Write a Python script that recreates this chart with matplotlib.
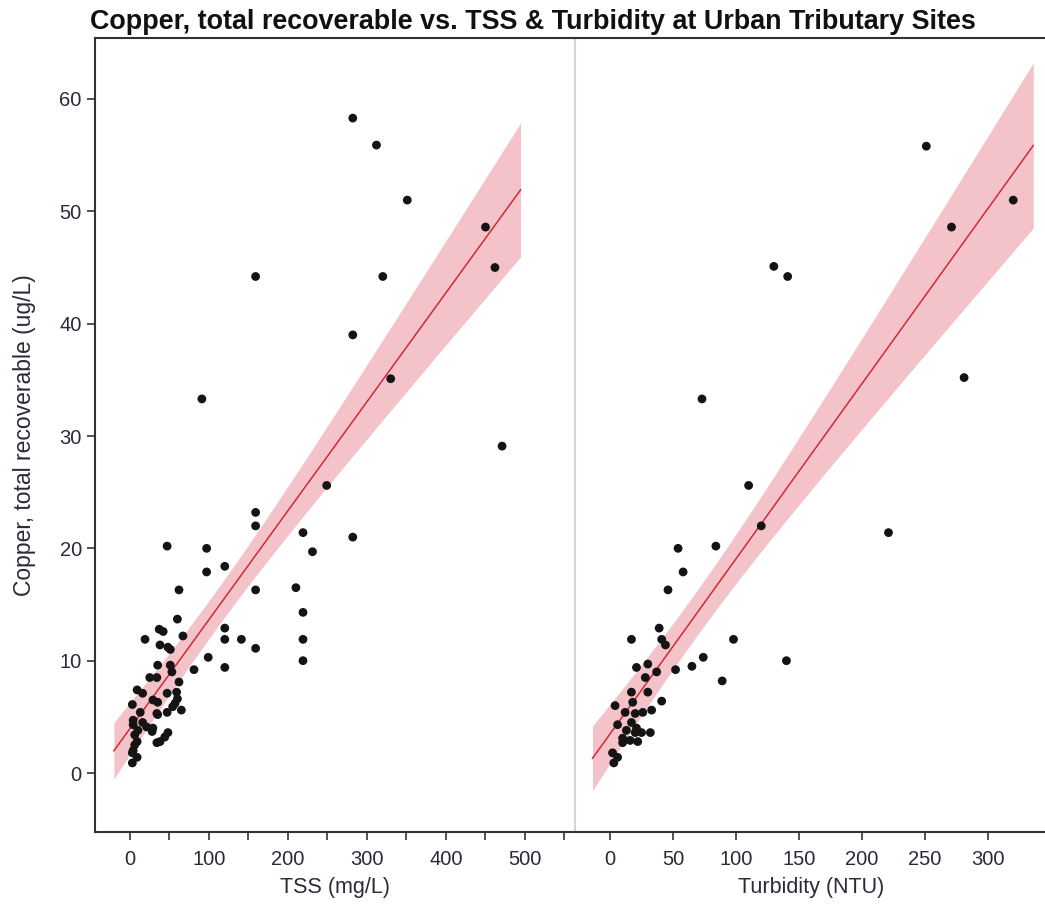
import numpy as np
import matplotlib
matplotlib.use("Agg")
import matplotlib.pyplot as plt
from matplotlib.ticker import MultipleLocator
from matplotlib import font_manager

# ---------------- data ----------------
tss = [282, 312, 351, 450, 462, 159, 320, 282, 330, 91, 471,
       249, 159, 159, 219, 282, 231, 47, 97, 120, 97, 62, 159, 210, 219, 60,
       37, 42, 19, 67, 120, 120, 141, 219, 159, 219, 99, 120, 81, 38, 48, 51,
       35, 51, 53, 25, 34, 62, 9, 16, 47, 59,
       60, 29, 35, 3, 57, 54, 65, 47, 34, 35, 13, 4, 4, 16, 21, 29, 28, 10, 6,
       48, 44, 38, 34, 9, 6, 4, 3, 9, 3]
cu_tss = [58.3, 55.9, 51.0, 48.6, 45.0, 44.2, 44.2, 39.0, 35.1, 33.3, 29.1,
          25.6, 23.2, 22.0, 21.4, 21.0, 19.7, 20.2, 20.0, 18.4, 17.9, 16.3, 16.3, 16.5, 14.3, 13.7,
          12.8, 12.6, 11.9, 12.2, 12.9, 11.9, 11.9, 11.9, 11.1, 10.0, 10.3, 9.4, 9.2, 11.4, 11.2, 11.0,
          9.6, 9.6, 9.0, 8.5, 8.5, 8.1, 7.4, 7.1, 7.1, 7.2,
          6.6, 6.5, 6.3, 6.1, 6.2, 5.9, 5.6, 5.4, 5.3, 5.2, 5.4, 4.7, 4.3, 4.5, 4.1, 4.0, 3.7, 3.8, 3.4,
          3.6, 3.2, 2.8, 2.7, 2.8, 2.5, 2.0, 1.8, 1.4, 0.9]

turb = [251, 320, 271, 130, 141, 281, 73, 110, 120, 221, 54, 84, 58, 46, 39, 17, 98,
        41, 44, 140, 74, 30, 21, 37, 52, 65, 89, 28,
        17, 30, 41, 4, 18, 12, 20, 26, 33, 6, 17, 21, 13, 20, 25, 32, 10, 16, 10, 22,
        2, 6, 3]
cu_turb = [55.8, 51.0, 48.6, 45.1, 44.2, 35.2, 33.3, 25.6, 22.0, 21.4, 20.0, 20.2, 17.9, 16.3, 12.9, 11.9, 11.9,
           11.9, 11.4, 10.0, 10.3, 9.7, 9.4, 9.0, 9.2, 9.5, 8.2, 8.5,
           7.2, 7.2, 6.4, 6.0, 6.3, 5.4, 5.3, 5.4, 5.6, 4.3, 4.5, 4.0, 3.8, 3.6, 3.6, 3.6, 3.1, 2.9, 2.7, 2.8,
           1.8, 1.4, 0.9]

title = "Copper, total recoverable vs. TSS & Turbidity at Urban Tributary Sites"
ylabel = "Copper, total recoverable (ug/L)"
xlabel_left = "TSS (mg/L)"
xlabel_right = "Turbidity (NTU)"

# ---------------- styling ----------------
avail = {f.name for f in font_manager.fontManager.ttflist}
base_font = "Liberation Sans" if "Liberation Sans" in avail else "DejaVu Sans"
title_font = "Liberation Sans Narrow" if "Liberation Sans Narrow" in avail else base_font
plt.rcParams["font.family"] = [base_font, "DejaVu Sans"]

W, H = 1045, 905
fig = plt.figure(figsize=(W / 100, H / 100), dpi=100)

def fx(px):
    return px / W

def fy(py):
    return 1 - py / H

bot, top = 832, 38
axL = fig.add_axes([fx(95), fy(bot), fx(575 - 95), (bot - top) / H])
axR = fig.add_axes([fx(575), fy(bot), fx(1047 - 575), (bot - top) / H], sharey=axL)

spine_c = "#333333"
tick_c = "#2a2a3a"
pt_c = "#141414"
band_c = "#f3bcc3"
line_c = "#d02a38"


def fit_band(ax, x, y, t=1.99):
    x = np.asarray(x, float)
    y = np.asarray(y, float)
    n = len(x)
    b, a = np.polyfit(x, y, 1)
    rng = x.max() - x.min()
    xg = np.linspace(x.min() - 0.05 * rng, x.max() + 0.05 * rng, 200)
    yg = a + b * xg
    resid = y - (a + b * x)
    s = np.sqrt(np.sum(resid ** 2) / (n - 2))
    sxx = np.sum((x - x.mean()) ** 2)
    se = s * np.sqrt(1 / n + (xg - x.mean()) ** 2 / sxx)
    ax.fill_between(xg, yg - t * se, yg + t * se, color=band_c, alpha=0.9,
                    linewidth=0, zorder=1)
    ax.plot(xg, yg, color=line_c, lw=1.1, zorder=2)


for ax, x, y in [(axL, tss, cu_tss), (axR, turb, cu_turb)]:
    fit_band(ax, x, y)
    ax.scatter(x, y, s=40, color=pt_c, edgecolors="none", zorder=3)
    ax.set_facecolor("white")
    for sp in ax.spines.values():
        sp.set_color(spine_c)
        sp.set_linewidth(1.5)
    ax.spines["right"].set_visible(False)
    ax.tick_params(axis="both", direction="out", length=6, width=1.2,
                   color=spine_c, labelcolor=tick_c, labelsize=14.5)
    ax.tick_params(axis="x", pad=7)

axL.set_xlim(-44.3, 563.3)
axR.set_xlim(-27.8, 346.8)
axL.set_ylim(-5.25, 65.43)

axL.xaxis.set_major_locator(MultipleLocator(100))
axL.xaxis.set_minor_locator(MultipleLocator(50))
axL.tick_params(axis="x", which="minor", direction="out", length=6, width=1.2, color=spine_c)
axR.xaxis.set_major_locator(MultipleLocator(50))
axL.yaxis.set_major_locator(MultipleLocator(10))

axR.spines["left"].set_color("#d4d4d4")
axR.spines["left"].set_linewidth(1.5)
axR.tick_params(axis="y", left=False, labelleft=False)

axL.set_xlabel(xlabel_left, fontsize=15.5, color=tick_c, labelpad=6)
axR.set_xlabel(xlabel_right, fontsize=15.5, color=tick_c, labelpad=6)
fig.text(fx(25), (fy(bot) + fy(top)) / 2, ylabel, rotation=90, ha="center",
         va="center", fontsize=16.5, color=tick_c)

fig.text(fx(90), fy(22), title, ha="left", va="center", fontsize=19.4,
         fontweight="bold", color="#111111", family=[title_font, "DejaVu Sans"])

fig.savefig("out.png", dpi=100, facecolor="white")
